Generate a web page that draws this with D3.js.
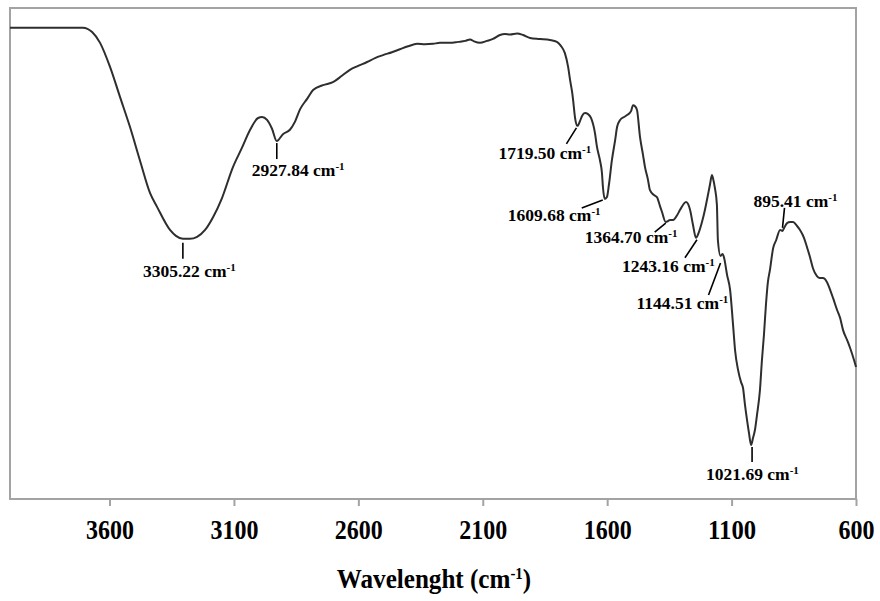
<!DOCTYPE html>
<html>
<head>
<meta charset="utf-8">
<script src="https://cdn.jsdelivr.net/npm/d3@7"></script>
<style>
  html, body { margin: 0; padding: 0; background: #fff; }
  svg { display: block; }
  text { font-family: "Liberation Serif", "Times New Roman", serif; font-weight: bold; fill: #000; }
</style>
</head>
<body>
<svg id="chart" width="880" height="601"></svg>
<script>
// FTIR spectrum: wavenumber (cm-1) and transmittance (%T, arbitrary scale)
const wavenumbers = [
  4000, 3707, 3670, 3638, 3598, 3558, 3518, 3478, 3437, 3409, 3357, 3333, 3305, 3277, 3248, 3216,
  3184, 3148, 3104, 3068, 3035, 3003, 2987, 2967, 2947, 2928, 2903, 2875, 2855, 2834, 2806, 2782,
  2742, 2702, 2666, 2634, 2601, 2565, 2533, 2501, 2465, 2433, 2400, 2364, 2332, 2300, 2272, 2232,
  2199, 2171, 2151, 2135, 2111, 2083, 2059, 2031, 2011, 1990, 1962, 1938, 1910, 1870, 1830, 1802,
  1786, 1770, 1757, 1749, 1741, 1737, 1729, 1719.5, 1709, 1701, 1689, 1677, 1665, 1649, 1641, 1629,
  1621, 1617, 1609.7, 1601, 1593, 1581, 1568, 1560, 1548, 1532, 1520, 1504, 1496, 1488, 1480, 1468,
  1456, 1448, 1436, 1428, 1412, 1400, 1388, 1380, 1364.7, 1347, 1335, 1319, 1307, 1283, 1275, 1267,
  1255, 1243.2, 1231, 1219, 1207, 1199, 1187, 1179, 1175, 1167, 1159, 1155, 1144.5, 1136, 1130, 1118,
  1106, 1094, 1086, 1074, 1062, 1054, 1046, 1038, 1030, 1021.7, 1014, 1006, 998, 986, 978, 970,
  962, 954, 946, 933, 921, 905, 895.4, 889, 877, 865, 853, 837, 825, 809, 797, 785,
  773, 757, 745, 733, 717, 704, 692, 676, 664, 652, 636, 624, 608, 600
];
const transmittance = [
  96.0, 96.0, 95.1, 92.9, 88.0, 81.9, 75.8, 69.0, 62.3, 59.5, 54.8, 53.6, 53.0, 53.0, 53.4, 54.8,
  57.4, 61.3, 67.6, 71.5, 75.2, 77.6, 77.8, 77.2, 75.4, 72.9, 74.3, 75.2, 76.8, 79.4, 81.5, 83.3,
  84.3, 84.9, 86.2, 87.4, 88.2, 89.0, 89.8, 90.4, 91.0, 91.6, 92.2, 92.7, 92.6, 92.7, 92.9, 92.9,
  93.1, 93.3, 93.6, 93.2, 92.9, 93.3, 93.7, 94.5, 94.7, 94.6, 94.8, 94.5, 93.9, 93.7, 93.5, 93.1,
  92.3, 90.8, 88.0, 85.3, 82.9, 81.3, 77.6, 76.0, 77.0, 78.0, 78.6, 78.4, 77.6, 74.5, 71.7, 69.0,
  66.4, 63.5, 61.1, 61.5, 64.0, 69.0, 73.1, 75.8, 77.2, 77.8, 78.2, 79.0, 80.2, 80.0, 79.2, 73.7,
  70.1, 67.6, 65.0, 62.9, 61.9, 61.5, 59.7, 58.5, 56.4, 56.8, 56.8, 57.8, 58.9, 60.5, 60.1, 58.9,
  55.8, 53.2, 54.4, 56.4, 58.9, 60.9, 64.0, 66.0, 65.4, 63.3, 59.9, 52.7, 49.5, 49.9, 49.1, 45.6,
  42.6, 35.4, 30.3, 26.3, 23.8, 22.6, 19.1, 16.1, 13.4, 11.0, 12.4, 14.1, 17.1, 22.2, 28.3, 33.4,
  39.5, 44.2, 46.6, 51.1, 52.7, 54.8, 54.6, 55.2, 56.2, 56.4, 56.4, 55.6, 54.8, 53.2, 51.3, 49.3,
  47.0, 45.4, 45.0, 45.0, 44.2, 42.6, 40.9, 38.5, 36.9, 34.4, 32.4, 30.8, 28.3, 26.9
];

// Axis ticks
const tickValues = [3600, 3100, 2600, 2100, 1600, 1100, 600];
const tickLabels = ["3600", "3100", "2600", "2100", "1600", "1100", "600"];

// Labelled absorption bands
const peakWavenumbers = [3305.22, 2927.84, 1719.50, 1609.68, 1364.70, 1243.16, 1144.51, 1021.69, 895.41];
const peakLabels = ["3305.22", "2927.84", "1719.50", "1609.68", "1364.70", "1243.16", "1144.51", "1021.69", "895.41"];
const peakTransmittance = [53.0, 72.9, 76.0, 61.1, 56.4, 53.2, 49.5, 11.0, 54.6];

// Leader/label placement relative to each band (pixels): leader start, leader end, label left/baseline
const labelLayout = [
  { l0: [0, 4],   l1: [0, 20],   tx: -40, ty: 38 },
  { l0: [0, 2],   l1: [0, 18],   tx: -25, ty: 35 },
  { l0: [-1, 2],  l1: [-11, 18], tx: -79, ty: 33 },
  { l0: [-2, 1],  l1: [-23, 9],  tx: -97, ty: 22 },
  { l0: [0, 1],   l1: [-11, 10], tx: -81, ty: 21 },
  { l0: [1, 2],   l1: [-11, 20], tx: -74, ty: 34 },
  { l0: [0, 7],   l1: [-12, 39], tx: -84, ty: 53 },
  { l0: [1, 2],   l1: [1, 17],   tx: -45, ty: 35 },
  { l0: [0, -3],  l1: [2, -23],  tx: -29, ty: -24 }
];

const svg = d3.select("#chart");
const plot = { left: 10, right: 856, top: 8, bottom: 499 };

const x = d3.scaleLinear().domain([4000, 600]).range([plot.left, plot.right]);
const y = d3.scaleLinear().domain([0, 100]).range([plot.bottom, plot.top]);

// Plot frame
svg.append("rect")
  .attr("x", plot.left).attr("y", plot.top)
  .attr("width", plot.right - plot.left).attr("height", plot.bottom - plot.top)
  .attr("fill", "none").attr("stroke", "#a3a3a3").attr("stroke-width", 2);

// Bottom axis
const axis = d3.axisBottom(x).tickValues(tickValues).tickSize(7).tickFormat((d, i) => tickLabels[i]);
const gx = svg.append("g").attr("transform", `translate(0,${plot.bottom})`).call(axis);
gx.select(".domain").remove();
gx.selectAll(".tick line").attr("stroke", "#a3a3a3").attr("stroke-width", 2);
gx.selectAll(".tick text")
  .attr("y", 40).attr("dy", null)
  .attr("font-size", 27)
  .attr("textLength", (d, i) => tickLabels[i].length * 12)
  .attr("lengthAdjust", "spacingAndGlyphs")
  .style("font-family", "'Liberation Serif', 'Times New Roman', serif")
  .style("font-weight", "bold")
  .attr("fill", "#000");

// Axis title, slightly condensed horizontally
const title = svg.append("g")
  .attr("transform", "translate(434,588) scale(0.93,1)")
  .append("text")
  .attr("x", 0).attr("y", 0)
  .attr("text-anchor", "middle")
  .attr("font-size", 27);
title.append("tspan").text("Wavelenght (cm");
title.append("tspan").attr("font-size", 16).attr("dy", -9).text("-1");
title.append("tspan").attr("dy", 9).text(")");

// Spectrum
const data = wavenumbers.map((w, i) => ({ w, t: transmittance[i] }));
const line = d3.line().x(d => x(d.w)).y(d => y(d.t)).curve(d3.curveMonotoneX);
svg.append("path")
  .datum(data)
  .attr("d", line)
  .attr("fill", "none")
  .attr("stroke", "#2e2e2e")
  .attr("stroke-width", 2)
  .attr("stroke-linejoin", "round");

// Band annotations
peakWavenumbers.forEach((w, i) => {
  const px = x(w), py = y(peakTransmittance[i]);
  const L = labelLayout[i];
  svg.append("line")
    .attr("x1", px + L.l0[0]).attr("y1", py + L.l0[1])
    .attr("x2", px + L.l1[0]).attr("y2", py + L.l1[1])
    .attr("stroke", "#000").attr("stroke-width", 1.6);
  const t = svg.append("text")
    .attr("x", px + L.tx).attr("y", py + L.ty)
    .attr("font-size", 17.5);
  t.append("tspan").text(peakLabels[i] + " cm");
  t.append("tspan").attr("font-size", 11).attr("dy", -6).text("-1");
});
</script>
</body>
</html>
